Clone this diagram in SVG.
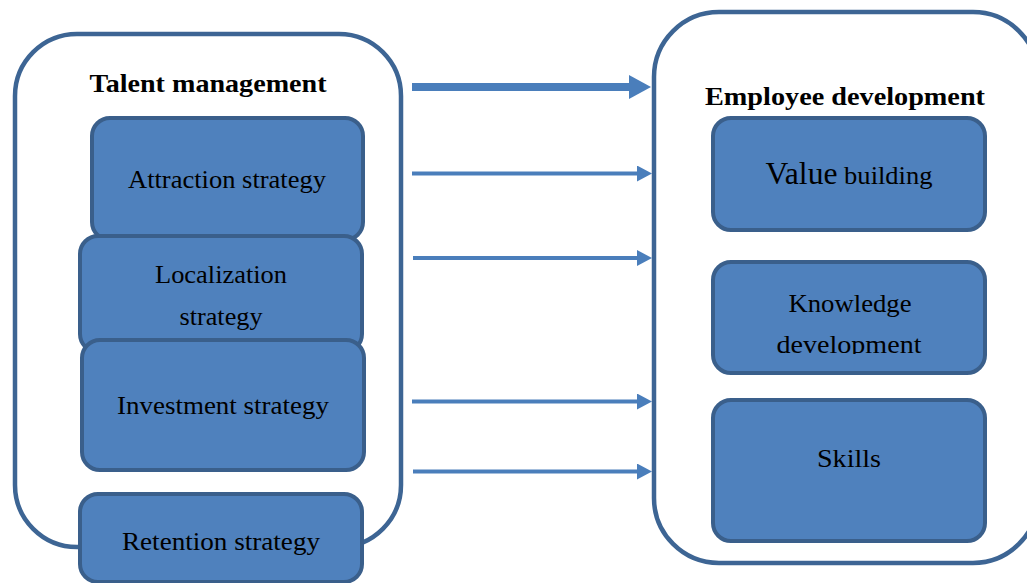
<svg xmlns="http://www.w3.org/2000/svg" width="1027" height="583" viewBox="0 0 1027 583">
<style>
.container{fill:#ffffff;stroke:#3d6594;stroke-width:4.5}
.box{fill:#4f81bd;stroke:#3a5f8b;stroke-width:4}
.head{font-family:"Liberation Serif","Times New Roman",serif;font-weight:bold;font-size:25px;fill:#000;text-anchor:middle}
.lbl{font-family:"Liberation Serif","Times New Roman",serif;font-size:26px;fill:#000;text-anchor:middle}
.arrow{stroke:#4a7ebb;fill:none}
</style>
<defs>
<marker id="thin" markerUnits="userSpaceOnUse" viewBox="0 0 15 16" markerWidth="15" markerHeight="16" refX="0" refY="8" orient="auto">
<path d="M0,0 L15,8 L0,16 z" fill="#4a7ebb"/>
</marker>
<marker id="thick" markerUnits="userSpaceOnUse" viewBox="0 0 22 24" markerWidth="22" markerHeight="24" refX="0" refY="12" orient="auto">
<path d="M0,0 L22,12 L0,24 z" fill="#4a7ebb"/>
</marker>
<clipPath id="kclip"><rect x="700" y="250" width="300" height="104"/></clipPath>
</defs>

<g id="talent-management">
<rect class="container" x="15" y="34" width="386" height="513" rx="62" ry="62"/>
<text class="head" x="208" y="92" textLength="237" lengthAdjust="spacingAndGlyphs">Talent management</text>
</g>

<g id="attraction-strategy">
<rect class="box" x="92" y="118" width="271" height="122" rx="18" ry="18"/>
<text class="lbl" x="227" y="188" textLength="198" lengthAdjust="spacingAndGlyphs">Attraction strategy</text>
</g>

<g id="localization-strategy">
<rect class="box" x="80" y="236" width="282" height="116" rx="18" ry="18"/>
<text class="lbl" x="221" y="283" textLength="132" lengthAdjust="spacingAndGlyphs">Localization</text>
<text class="lbl" x="221" y="325" textLength="83" lengthAdjust="spacingAndGlyphs">strategy</text>
</g>

<g id="investment-strategy">
<rect class="box" x="82" y="340" width="282" height="130" rx="18" ry="18"/>
<text class="lbl" x="223" y="414" textLength="212" lengthAdjust="spacingAndGlyphs">Investment strategy</text>
</g>

<g id="retention-strategy">
<rect class="box" x="80" y="494" width="282" height="88" rx="18" ry="18"/>
<text class="lbl" x="221" y="550" textLength="198" lengthAdjust="spacingAndGlyphs">Retention strategy</text>
</g>

<g id="connectors">
<line class="arrow" x1="412" y1="87" x2="629" y2="87" stroke-width="8" marker-end="url(#thick)"/>
<line class="arrow" x1="412" y1="173.5" x2="637" y2="173.5" stroke-width="4" marker-end="url(#thin)"/>
<line class="arrow" x1="413" y1="258" x2="637" y2="258" stroke-width="4" marker-end="url(#thin)"/>
<line class="arrow" x1="412" y1="401.5" x2="637" y2="401.5" stroke-width="4" marker-end="url(#thin)"/>
<line class="arrow" x1="413" y1="471.5" x2="637" y2="471.5" stroke-width="4" marker-end="url(#thin)"/>
</g>

<g id="employee-development">
<rect class="container" x="654" y="12" width="384" height="551" rx="65" ry="65"/>
<text class="head" x="845" y="105" textLength="280" lengthAdjust="spacingAndGlyphs">Employee development</text>
</g>

<g id="value-building">
<rect class="box" x="713" y="118" width="272" height="112" rx="18" ry="18"/>
<text class="lbl" x="849" y="184" textLength="167" lengthAdjust="spacingAndGlyphs"><tspan font-size="31">Value</tspan> building</text>
</g>

<g id="knowledge-development">
<rect class="box" x="713" y="262" width="272" height="111" rx="18" ry="18"/>
<text class="lbl" x="850" y="312" textLength="123" lengthAdjust="spacingAndGlyphs">Knowledge</text>
<text class="lbl" x="849" y="353" textLength="145" lengthAdjust="spacingAndGlyphs" clip-path="url(#kclip)">development</text>
</g>

<g id="skills">
<rect class="box" x="713" y="400" width="272" height="141" rx="18" ry="18"/>
<text class="lbl" x="849" y="467" textLength="64" lengthAdjust="spacingAndGlyphs" font-size="31">Skills</text>
</g>
</svg>
